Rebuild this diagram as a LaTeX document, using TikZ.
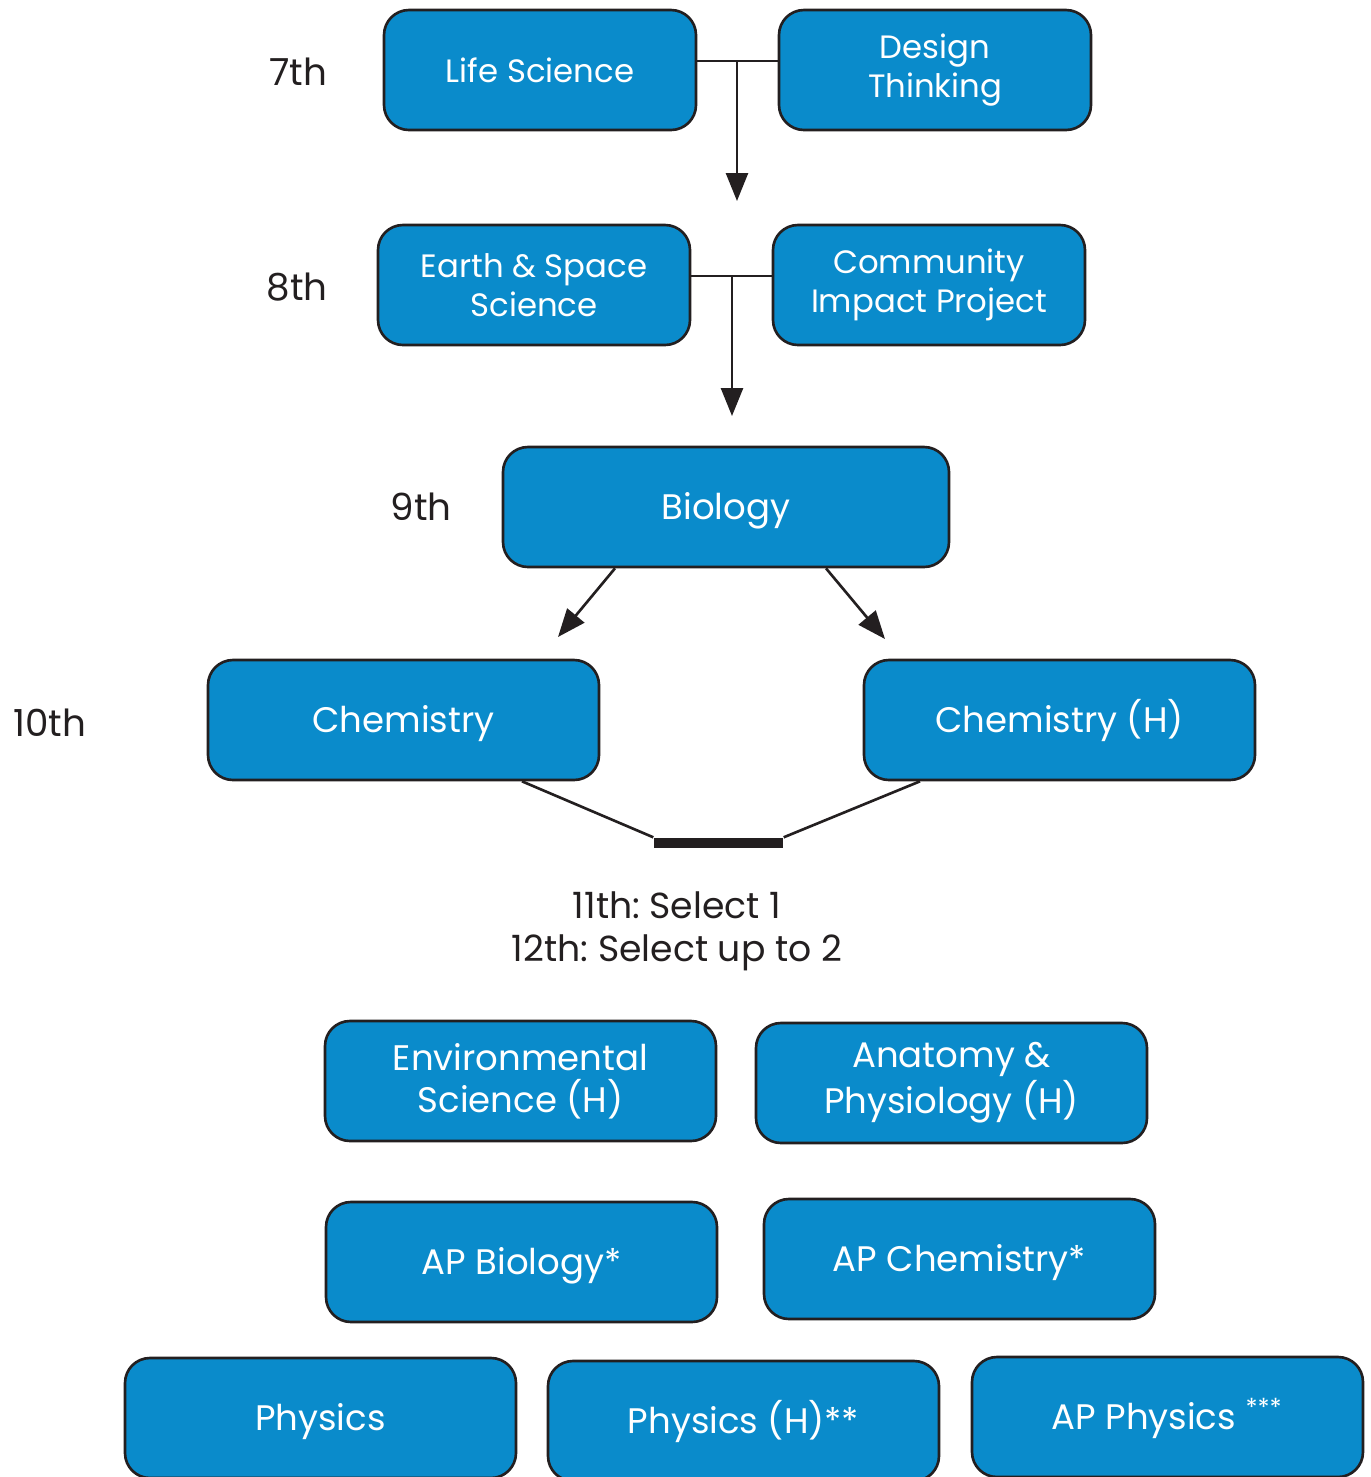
\documentclass[tikz,border=0pt]{standalone}
\usepackage{fontspec}
\setmainfont{Poppins}
\usepackage{xcolor}
\usetikzlibrary{arrows.meta, positioning}
\definecolor{boxblue}{RGB}{10,139,203}
\definecolor{ink}{RGB}{35,31,32}
\frenchspacing

\tikzset{
    course/.style={draw=ink, line width=0.75pt, fill=boxblue, rounded corners=0.25cm,
        minimum width=3.91cm, minimum height=1.2cm, text=white, align=center,
        font=\fontsize{10.1}{11.9}\selectfont, inner sep=0pt},
    oneline/.style={course, text height=0.7em, text depth=0pt},
    smallcourse/.style={course, minimum width=3.12cm, font=\fontsize{9.2}{11}\selectfont},
    grade/.style={text=ink, font=\fontsize{10.6}{12}\selectfont},
    link/.style={draw=ink, line width=0.75pt},
    tip/.style={link, -{Triangle[length=0.28cm,width=0.22cm]}},
}

\begin{document}
\begin{tikzpicture}
    \useasboundingbox (0,0) rectangle (13.7,-14.77);

    % grades
    \node[grade] (g7) at (2.98,-0.72) {7th};
    \node[grade] (g8) at (2.97,-2.87) {8th};
    \node[grade] (g9) at (4.21,-5.07) {9th};
    \node[grade] (g10) at (0.50,-7.23) {10th};

    % 7th and 8th
    \node[smallcourse, text height=0.7em, text depth=0pt] (life) at (5.40,-0.70) {Life Science};
    \node[smallcourse] (design) at (9.35,-0.70) {Design\\Thinking};
    \node[smallcourse] (earth) at (5.34,-2.85) {Earth \& Space\\Science};
    \node[smallcourse] (impact) at (9.29,-2.85) {Community\\Impact Project};

    \coordinate (j7) at (7.37,-0.61);
    \coordinate (e7) at (7.37,-2.01);
    \draw[link] (life.east |- j7) -- (design.west |- j7);
    \draw[tip] (j7) -- (e7);

    \coordinate (j8) at (7.32,-2.76);
    \coordinate (e8) at (7.32,-4.16);
    \draw[link] (earth.east |- j8) -- (impact.west |- j8);
    \draw[tip] (j8) -- (e8);

    % 9th and 10th
    \node[oneline, minimum width=4.46cm] (bio) at (7.26,-5.07) {Biology};
    \node[oneline] (chem) at (4.035,-7.20) {Chemistry};
    \node[oneline] (chemh) at (10.595,-7.20) {Chemistry (H)};

    \coordinate (e9l) at (5.58,-6.37);
    \coordinate (e9r) at (8.85,-6.39);
    \draw[tip] (6.15,0 |- bio.south) -- (e9l);
    \draw[tip] (8.26,0 |- bio.south) -- (e9r);

    \node[fill=ink, minimum width=1.29cm, minimum height=0.1cm, inner sep=0pt] (bar) at (7.185,-8.43) {};
    \draw[link] (5.22,0 |- chem.south) -- (bar.north west);
    \draw[link] (9.20,0 |- chemh.south) -- (bar.north east);

    \node[grade, align=center, font=\fontsize{10.3}{12.2}\selectfont] (select) at (6.77,-9.31) {11th: Select 1\\12th: Select up to 2};

    % 11th and 12th
    \node[course] (env) at (5.205,-10.81) {Environmental\\Science (H)};
    \node[course] (anat) at (9.515,-10.83) {Anatomy \&\\Physiology (H)};
    \node[oneline] (apbio) at (5.215,-12.62) {AP Biology*};
    \node[oneline] (apchem) at (9.595,-12.59) {AP Chemistry*};
    \node[oneline] (phys) at (3.205,-14.18) {Physics};
    \node[oneline] (physh) at (7.435,-14.21) {Physics (H)**};
    \node[oneline] (apphys) at (11.675,-14.17) {AP Physics \textsuperscript{***}};
\end{tikzpicture}
\end{document}
